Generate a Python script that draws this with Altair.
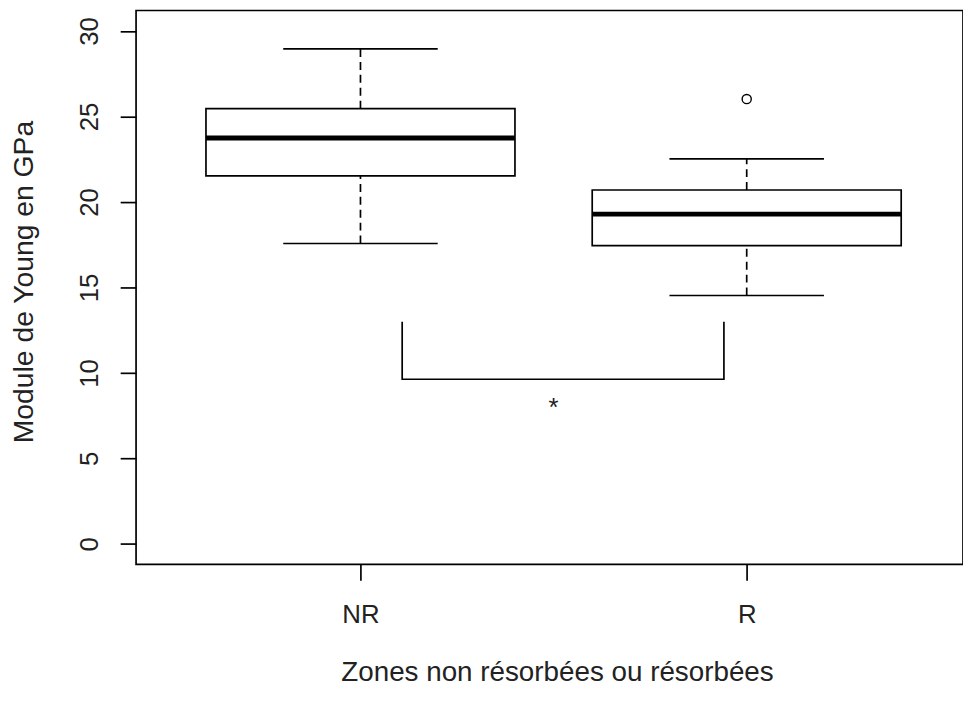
import altair as alt
import pandas as pd

# ---- data ----
groups = ["NR", "R"]
positions = [1, 2]
lower_whisker = [17.57, 14.53]
q1 = [21.53, 17.45]
median = [23.74, 19.29]
q3 = [25.46, 20.70]
upper_whisker = [28.96, 22.52]

outlier_group_pos = [2]
outlier_values = [26.02]

bracket_x = [1.108, 1.108, 1.941, 1.941]
bracket_y = [13.0, 9.63, 9.63, 13.0]
star_x = [1.5]
star_y = [7.5]
star_text = ["*"]

y_ticks = [0, 5, 10, 15, 20, 25, 30]
x_ticks = [1, 2]

W, H = 833, 558
FONT = "Liberation Sans"
LW = 1.7

box_df = pd.DataFrame({
    "group": groups, "pos": positions, "lo": lower_whisker, "q1": q1,
    "med": median, "q3": q3, "hi": upper_whisker,
})
out_df = pd.DataFrame({"pos": outlier_group_pos, "val": outlier_values})
bracket_df = pd.DataFrame({"bx": bracket_x, "by": bracket_y, "order": list(range(len(bracket_x)))})
star_df = pd.DataFrame({"sx": star_x, "sy": star_y, "t": star_text})

xscale = alt.Scale(domain=[0.419, 2.56], nice=False, zero=False)
yscale = alt.Scale(domain=[-1.2, 31.2], nice=False, zero=False)

xaxis = alt.Axis(
    values=x_ticks, labelExpr="datum.value == 1 ? 'NR' : 'R'",
    title="Zones non résorbées ou résorbées", domain=False, grid=False,
    tickSize=16, tickColor="black", tickWidth=LW,
    labelFont=FONT, labelFontSize=26, labelColor="#222", labelBaseline="alphabetic",
    labelPadding=43, labelAlign="center",
    titleFont=FONT, titleFontSize=28, titleFontWeight="normal", titleColor="#222",
    titleBaseline="alphabetic", titleY=117, titleX=424,
)
yaxis = alt.Axis(
    values=y_ticks, title="Module de Young en GPa", domain=False, grid=False,
    tickSize=16, tickColor="black", tickWidth=LW,
    labelFont=FONT, labelFontSize=26, labelColor="#222", labelAngle=270,
    labelAlign="center", labelBaseline="alphabetic", labelPadding=23,
    titleFont=FONT, titleFontSize=28.5, titleFontWeight="normal", titleColor="#222",
    titleAngle=270, titleBaseline="alphabetic", titleX=-104, titleY=273,
)

base = alt.Chart(box_df).transform_calculate(
    xl="datum.pos - 0.4", xr="datum.pos + 0.4",
    cl="datum.pos - 0.2", cr="datum.pos + 0.2",
)

boxes = base.mark_rect(fill="white", stroke="black", strokeWidth=LW).encode(
    x=alt.X("xl:Q", scale=xscale, axis=xaxis),
    x2="xr:Q",
    y=alt.Y("q1:Q", scale=yscale, axis=yaxis),
    y2="q3:Q",
)
medians = base.mark_rule(color="black", strokeWidth=5, strokeCap="butt").encode(
    x=alt.X("xl:Q", scale=xscale), x2="xr:Q", y=alt.Y("med:Q", scale=yscale)
)
whisk_up = base.mark_rule(color="black", strokeWidth=LW, strokeDash=[8, 5]).encode(
    x=alt.X("pos:Q", scale=xscale), y=alt.Y("q3:Q", scale=yscale), y2="hi:Q"
)
whisk_lo = base.mark_rule(color="black", strokeWidth=LW, strokeDash=[8, 5]).encode(
    x=alt.X("pos:Q", scale=xscale), y=alt.Y("lo:Q", scale=yscale), y2="q1:Q"
)
cap_up = base.mark_rule(color="black", strokeWidth=LW).encode(
    x=alt.X("cl:Q", scale=xscale), x2="cr:Q", y=alt.Y("hi:Q", scale=yscale)
)
cap_lo = base.mark_rule(color="black", strokeWidth=LW).encode(
    x=alt.X("cl:Q", scale=xscale), x2="cr:Q", y=alt.Y("lo:Q", scale=yscale)
)
outliers = alt.Chart(out_df).mark_point(
    shape="circle", filled=False, color="black", size=85, strokeWidth=1.4, opacity=1
).encode(x=alt.X("pos:Q", scale=xscale), y=alt.Y("val:Q", scale=yscale))

bracket = alt.Chart(bracket_df).mark_line(color="black", strokeWidth=LW).encode(
    x=alt.X("bx:Q", scale=xscale), y=alt.Y("by:Q", scale=yscale), order="order:Q"
)
star = alt.Chart(star_df).mark_text(
    font=FONT, fontSize=26, color="#222", baseline="alphabetic", align="center"
).encode(x=alt.X("sx:Q", scale=xscale), y=alt.Y("sy:Q", scale=yscale), text="t:N")

chart = alt.layer(
    boxes, whisk_up, whisk_lo, cap_up, cap_lo, medians, outliers, bracket, star
).properties(
    width=W, height=H,
    autosize=alt.AutoSizeParams(type="none"),
    padding={"left": 129, "top": 0, "right": 0, "bottom": 126},
    background="white",
).configure_view(stroke="black", strokeWidth=LW)

chart.save("out.html", embed_options={"renderer": "svg", "actions": False})
